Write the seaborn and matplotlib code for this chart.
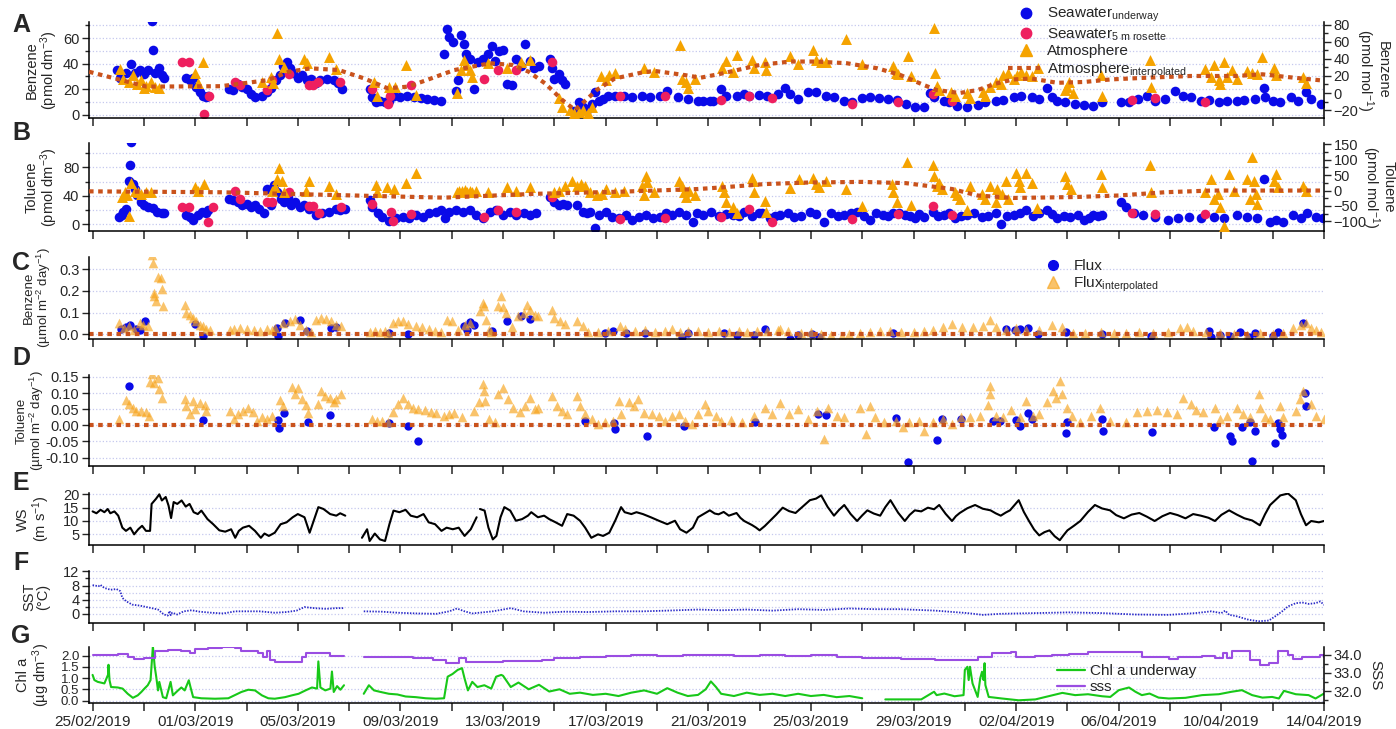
#!/usr/bin/env python3
import matplotlib
matplotlib.use("Agg")
import matplotlib.pyplot as plt
import matplotlib.ticker as mticker
import matplotlib.dates as mdates
from matplotlib.lines import Line2D
import seaborn as sns
import pandas as pd
import numpy as np

nan = np.nan
START = pd.Timestamp("2019-02-25")

# ===================== DATA (day since 25/02/2019, value) =====================

benz_underway = [
    (0.96, 35), (1.08, 29), (1.3, 33), (1.48, 40), (1.65, 33), (1.83, 35), (2.0, 32), (2.17, 35), (2.31, 73), (2.37, 51),
    (2.43, 33), (2.57, 37), (2.7, 31), (2.78, 29),
    (3.65, 29), (3.8, 27), (3.9, 29), (4.03, 22), (4.17, 18), (4.3, 15), (4.43, 14), (4.5, 15),
    (5.3, 20), (5.48, 19.5), (5.65, 24), (5.83, 21.5), (6.0, 20), (6.17, 16), (6.35, 14), (6.6, 15), (6.78, 18), (6.96, 21),
    (7.13, 27), (7.3, 31), (7.43, 38), (7.57, 41), (7.7, 37), (7.83, 33), (8.0, 29), (8.17, 31), (8.35, 27), (8.5, 28),
    (8.7, 25), (8.87, 27), (9.13, 28), (9.4, 27), (9.57, 25), (9.74, 20),
    (10.8, 20), (10.9, 14), (11.04, 10), (11.2, 11), (11.4, 10), (11.57, 11), (11.74, 15), (12.0, 14), (12.26, 15),
    (12.52, 14), (12.8, 13), (13.04, 12.5), (13.3, 11.7), (13.57, 11),
    (13.7, 47.5), (13.83, 67), (13.9, 60.5), (14.05, 56.6), (14.17, 19), (14.26, 27), (14.35, 62), (14.47, 55),
    (14.57, 47.5), (14.7, 43.6), (14.87, 20), (15.04, 41), (15.2, 43.6), (15.4, 47.5), (15.57, 54), (15.7, 42),
    (15.83, 50), (16.0, 51), (16.17, 24), (16.35, 23), (16.5, 43.6), (16.7, 38), (16.87, 55), (17.04, 42), (17.2, 37), (17.4, 38),
    (17.83, 43.6), (17.9, 37), (18.0, 28), (18.17, 32), (18.3, 27), (18.4, 24),
    (18.78, 3.4), (18.96, 10), (19.13, 6), (19.3, 4.7), (19.48, 8.6), (19.6, 17.7), (19.74, 11), (19.9, 12.5), (20.1, 15),
    (20.35, 15), (20.7, 15), (21.04, 14), (21.4, 15), (21.74, 14.3), (22.1, 15), (22.4, 19), (22.8, 14), (23.2, 12.5), (23.6, 11),
    (23.8, 11), (24.05, 11), (24.2, 11), (24.5, 20), (24.7, 15), (25.1, 15), (25.4, 16.4), (25.6, 15), (25.96, 15.6),
    (26.3, 15), (26.7, 16), (27.0, 21), (27.2, 16.4), (27.5, 12.5),
    (27.9, 17.7), (28.2, 17.7), (28.6, 15), (28.9, 14), (29.3, 11), (29.6, 10), (30.0, 13), (30.3, 14), (30.66, 13),
    (31.0, 12.5), (31.36, 11.7), (31.7, 8.6), (32.05, 6.5), (32.4, 6.5),
    (32.66, 17), (32.8, 14), (33.2, 11), (33.4, 10), (33.7, 7.3), (34.1, 6.5), (34.5, 8), (34.8, 10), (35.2, 11), (35.5, 11.7),
    (35.9, 14), (36.2, 15), (36.6, 14), (36.9, 12.5), (37.2, 21), (37.4, 14), (37.6, 11), (37.9, 10), (38.3, 8.6), (38.66, 8),
    (39.0, 7.3), (39.36, 10),
    (40.1, 10), (40.4, 10.4), (40.75, 12.5), (41.1, 15), (41.4, 11), (41.8, 12.5), (42.2, 19), (42.5, 15), (42.8, 14),
    (43.2, 11), (43.5, 11.7), (43.9, 10.4), (44.2, 11), (44.6, 11), (44.9, 11.7), (45.3, 12.5), (45.65, 21), (45.7, 14),
    (46.0, 11), (46.3, 10),
    (46.7, 14), (47.0, 11), (47.3, 17.7), (47.5, 12.5), (47.9, 8.6),
]

benz_rosette = [
    (3.48, 41.5), (3.74, 41), (4.35, 1), (4.52, 15), (5.57, 25.5), (5.74, 23), (6.78, 19.5), (7.0, 27.5), (7.65, 32),
    (8.43, 23.4), (8.6, 23.4), (8.8, 26), (9.65, 25.5), (10.9, 20), (11.5, 8.6), (11.6, 15), (12.43, 23.4), (15.27, 28),
    (15.8, 35), (16.5, 35), (17.9, 41), (20.57, 14.5), (22.3, 14.5), (24.5, 12), (25.57, 15), (26.5, 13), (29.6, 8.6),
    (31.4, 10), (32.75, 16), (33.5, 10.6), (40.5, 12), (41.4, 13), (43.36, 10.4),
]

benz_atmos = [
    (1.08, 28), (1.2, 17), (1.4, 13), (1.57, 21), (1.74, 11), (1.88, 15), (2.0, 5.5), (2.1, 8), (2.26, 13), (2.43, 7.5),
    (2.6, 5.5), (4.0, 24), (4.09, 11.4), (4.3, 37), (6.6, 13), (6.96, 19), (7.04, 11.4), (7.2, 71), (7.26, 39.6), (7.48, 31),
    (8.26, 39.6), (8.35, 35), (9.2, 42), (9.48, 28), (10.96, 13), (11.1, -4), (11.57, 7.5), (11.8, 6.7), (12.2, 33),
    (12.6, -2), (14.2, 0.4), (14.35, 27), (14.47, 39), (14.57, 33), (14.7, 27), (14.78, 19), (15.4, 35), (16.17, 29),
    (16.7, 37), (17.04, 39), (18.17, -6), (18.3, -16), (18.6, -20), (18.78, -23), (18.96, -22), (19.13, -20), (19.3, -23),
    (19.48, -16), (19.83, 20), (20.0, 15), (20.14, 21), (20.35, 24), (21.5, 29), (21.9, 25), (22.9, 56.5), (22.97, 17),
    (23.13, 13), (23.2, 5.5), (23.5, 16),
    (24.55, 29), (24.7, 38), (24.97, 25), (25.1, 44.7), (25.7, 39), (25.8, 29), (26.2, 37), (26.25, 27), (27.2, 43.5),
    (27.5, 34), (28.1, 50), (28.2, 39), (28.4, 37), (28.6, 37), (29.36, 64), (30.0, 34), (31.2, 32), (31.3, 23), (31.4, 22),
    (31.8, 43.5), (31.9, 20), (32.8, 77), (32.82, 23), (32.9, 8), (33.0, 3.5), (33.45, 1.6), (33.6, -4), (34.1, 0),
    (34.2, -5.5), (34.7, 1.6), (34.8, -4), (35.0, 7.5), (35.2, 13), (35.4, 11), (35.5, 21), (35.7, 24), (35.9, 17),
    (36.05, 21), (36.2, 25), (36.4, 21), (36.6, 20), (36.85, 29), (37.9, 3), (38.0, 7), (38.05, 13), (38.2, 0), (39.3, 21),
    (39.36, -4), (41.2, 39), (41.27, 7), (43.36, 28), (43.6, 19), (43.7, 33), (43.9, 15), (43.96, 11), (44.1, 36),
    (44.2, 19), (44.4, 27), (44.6, 16), (45.0, 26), (45.2, 23), (45.4, 22), (45.6, 42), (46.05, 29), (46.14, 21),
    (47.2, 19), (47.3, 12),
]

benz_atmos_interp = [
    (-0.14, 25), (2.1, 7.5), (5.0, 8), (6.8, 15), (7.65, 25), (8.5, 29), (9.6, 27), (10.6, 17), (11.5, 5.5), (12.3, 7.5),
    (13.0, 15), (14.1, 27), (15.5, 35), (16.35, 33), (17.0, 25), (17.65, 11), (18.3, -8), (18.8, -20), (19.1, -12),
    (19.65, 3.5), (20.35, 17), (21.4, 24), (21.9, 26), (23.1, 21), (23.7, 18), (24.55, 23), (26.0, 33), (27.2, 37),
    (28.2, 37), (29.4, 35), (30.6, 29), (31.5, 21), (32.4, 9.4), (32.9, 3.5), (33.8, 0), (34.5, 3.5), (35.2, 11), (35.9, 16),
    (36.6, 17), (37.6, 12), (38.66, 13), (39.7, 16), (41.1, 18), (42.8, 20), (44.6, 20), (45.6, 22), (46.5, 19), (48.0, 14.5),
]

tol_underway = [
    (1.04, 10.6), (1.13, 13), (1.2, 17.6), (1.3, 22), (1.4, 61.5), (1.44, 84), (1.5, 116), (1.57, 57), (1.65, 50),
    (1.74, 40.7), (1.88, 31.4), (2.0, 26.8), (2.17, 24.5), (2.35, 23), (2.52, 17.6), (2.7, 15), (2.8, 15),
    (3.65, 13), (3.8, 10.6), (3.9, 6), (4.09, 13), (4.26, 17.6), (4.43, 15), (4.5, 20),
    (5.3, 36), (5.48, 33.8), (5.65, 31.4), (5.83, 26.8), (6.0, 29), (6.17, 24.5), (6.35, 26.8), (6.5, 22), (6.7, 15),
    (6.78, 50), (6.96, 26.8), (7.08, 54.6), (7.2, 45), (7.35, 36), (7.48, 31.4), (7.6, 38), (7.74, 26.8), (7.9, 31.4),
    (8.1, 24.5), (8.26, 26.8), (8.43, 22), (8.7, 13), (8.96, 15), (9.2, 17.6), (9.48, 22), (9.65, 20), (9.83, 22),
    (10.8, 33.8), (10.9, 24.5), (11.13, 15), (11.3, 10.6), (11.57, 4.6), (11.83, 8.3), (12.1, 10.6), (12.35, 8.3),
    (12.6, 13), (12.87, 10.6), (13.13, 15), (13.4, 17.6), (13.57, 20), (13.74, 8.3), (13.9, 17.6), (14.17, 20),
    (14.43, 17.6), (14.7, 20), (14.96, 13), (15.2, 8.3), (15.48, 17.6), (15.74, 20), (16.0, 13), (16.26, 17.6),
    (16.5, 13), (16.8, 15), (17.04, 13), (17.3, 15),
    (17.83, 38), (18.0, 31.4), (18.17, 26.8), (18.35, 29), (18.5, 26.8), (18.9, 26.8), (19.1, 17.6), (19.26, 15),
    (19.4, 17.6), (19.6, -5.5), (19.74, 13), (20.0, 17.6), (20.26, 10.6), (20.5, 8.3), (20.8, 13), (21.04, 6),
    (21.3, 10.6), (21.57, 13), (21.83, 8.3), (22.1, 10.6), (22.35, 15), (22.6, 13), (22.87, 17.6), (23.13, 13),
    (23.4, 2.8), (23.57, 15),
    (23.8, 13), (24.1, 17), (24.4, 12), (24.7, 14), (24.97, 13), (25.2, 11), (25.4, 17.6), (25.7, 12), (25.96, 15),
    (26.1, 16), (26.4, 8.3), (26.6, 11), (26.8, 13), (27.1, 15), (27.35, 10.6), (27.6, 12), (27.96, 17.6), (28.2, 14),
    (28.5, 2.8), (28.8, 15), (29.05, 11), (29.3, 13), (29.55, 15), (29.8, 17.6), (30.05, 12), (30.3, 6), (30.55, 16),
    (30.8, 13), (31.0, 11), (31.2, 15), (31.45, 16), (31.65, 13), (31.85, 11), (32.05, 8.3), (32.2, 14), (32.4, 10.6),
    (32.75, 17.6), (32.95, 12), (33.2, 13), (33.4, 15), (33.6, 8.3), (33.85, 11), (34.1, 13), (34.35, 15), (34.65, 10.6),
    (34.9, 12), (35.2, 15), (35.4, 0), (35.65, 11), (35.9, 13), (36.15, 16), (36.4, 20), (36.65, 12), (36.9, 15),
    (37.2, 20), (37.4, 14), (37.6, 8.3), (37.85, 12), (38.1, 10.6), (38.4, 13), (38.66, 6), (38.85, 9), (39.0, 13),
    (39.2, 11), (39.36, 13),
    (40.1, 31.4), (40.3, 24.5), (40.6, 15), (40.95, 13), (41.4, 10.6), (41.9, 6), (42.3, 8.3), (42.75, 10.6), (43.2, 8.3),
    (43.7, 10.6), (44.1, 8.3), (44.6, 13), (45.0, 10.6), (45.4, 8.3), (45.65, 64), (45.9, 3.7), (46.14, 6), (46.4, 2.8),
    (46.8, 13), (47.1, 8.3), (47.35, 15), (47.7, 10.6), (47.97, 8.3),
]

tol_rosette = [
    (3.48, 23.6), (3.74, 23.6), (4.5, 3.7), (4.7, 23.6), (5.57, 46.7), (5.74, 36), (6.78, 31.4), (7.0, 31.4), (7.65, 46),
    (8.43, 26), (8.6, 25), (8.83, 15), (9.7, 23.6), (10.9, 28), (11.65, 17.6), (11.7, 4.6), (12.43, 14.3), (15.27, 10.6),
    (15.8, 20), (16.5, 17.6), (17.9, 38), (20.57, 7.4), (22.3, 8.3), (24.5, 10.6), (25.57, 22), (26.5, 3.7), (29.6, 7.4),
    (31.4, 13.9), (32.75, 26), (33.5, 13), (40.5, 16), (41.4, 13.9), (43.36, 13.9),
]

tol_atmos = [
    (1.13, -21), (1.25, -5), (1.36, -16), (1.43, -81), (1.5, 26), (1.65, 0), (1.77, -5.5), (1.9, -10.7), (2.09, -5.5),
    (2.26, -3.4), (4.0, 10), (4.09, 0), (4.35, 21), (7.0, 0), (7.1, 10), (7.2, 38.6), (7.26, 73), (7.4, 31), (7.48, -5.5),
    (8.3, 0), (8.43, 31), (9.2, 15.6), (9.5, -10.7), (11.04, 17.6), (11.1, -3.4), (11.48, 10), (11.74, 5), (12.2, 26),
    (12.6, 55.5), (14.2, -5), (14.3, 0), (14.4, -3), (14.5, 2), (14.6, -6), (14.7, 0), (14.8, -4), (14.96, -2),
    (15.4, -5.5), (16.17, 10), (16.5, 0), (17.04, 10), (18.0, -3.4), (18.17, -3), (18.4, 15.6), (18.7, 31), (18.87, 15.6),
    (19.04, 21), (19.2, 15.6), (19.4, -5.5), (19.65, -16), (19.87, -10.7), (20.0, 5), (20.35, -3.4), (20.7, 0),
    (21.4, 15.6), (21.5, -16), (21.57, 47), (21.6, 28), (21.9, -5.5), (22.87, 31), (22.97, 15.6), (23.04, -5.5),
    (23.13, -21), (23.26, 0), (23.5, -16),
    (24.55, 15.6), (24.6, -5.5), (24.7, -37), (24.97, -53), (25.1, -74), (25.7, 42), (25.75, 31), (25.8, -3.4),
    (26.2, -35), (26.25, -68), (27.2, 7), (27.55, 36.6), (28.1, 42), (28.2, 21), (28.3, 10), (28.6, 31), (29.36, 5),
    (30.0, -50), (31.15, 21), (31.2, -5.5), (31.36, -37), (31.75, 91), (31.9, -47), (32.75, 84), (32.8, 47), (32.9, 15.6),
    (33.0, 26), (33.1, 5), (33.6, -5.5), (33.7, -16), (33.8, -26), (34.1, -63), (34.2, 15.6), (34.65, -10.7), (34.8, -26),
    (35.0, 15.6), (35.2, -37), (35.25, 5), (35.45, -10.7), (35.6, 31), (35.7, -26), (36.0, 57.6), (36.1, 31), (36.15, 10),
    (36.4, 57.6), (36.6, 26), (36.8, -58), (37.9, 47), (38.0, 21), (38.14, 5), (39.3, 52), (39.35, 10), (41.2, 84),
    (41.27, -3.4), (43.36, -5.5), (43.6, 36.6), (43.7, -26), (43.85, -10.7), (43.96, -53), (44.1, -116), (44.3, 52),
    (44.5, 0), (45.0, 36.6), (45.1, -26), (45.2, 110), (45.27, 31), (45.35, -10.7), (45.4, -45), (46.05, 31), (46.14, 52),
    (46.2, 10), (47.2, 15.6), (47.3, 0),
]

tol_atmos_interp = [
    (-0.14, -2.6), (5.0, -5.5), (10.2, -16), (13.7, -23), (17.2, -10.7), (20.7, -3.4), (23.6, 5), (24.5, 10), (26.2, 21),
    (27.9, 26), (30.0, 28), (31.7, 24), (33.5, 5), (34.5, -16), (35.9, -24), (38.3, -21), (40.0, -16), (41.8, -5.5),
    (43.6, 0), (48.0, 0),
]

benz_flux = [
    (1.1, .023), (1.3, .033), (1.47, .044), (1.7, .023), (1.86, .02), (2.06, .062), (3.98, .048), (4.3, -.008),
    (7.17, .031), (7.24, -.006), (7.5, .051), (8.08, .067), (8.34, .017), (9.28, .031), (9.48, .033), (11.56, .008),
    (12.3, 0), (14.47, .036), (14.6, .02), (14.73, .056), (14.86, .044), (15.57, .017), (16.17, .059), (16.7, .086),
    (17.04, .07), (19.98, .005), (20.3, .017), (20.8, .008), (21.54, .005), (22.97, -.014), (23.2, .008), (24.6, .008),
    (25.1, -.003), (25.8, -.003), (26.2, .023), (27.2, -.023), (27.5, -.003), (28.06, .002), (28.3, -.014),
    (29.36, -.047), (31.2, .005), (31.8, -.039), (32.86, -.045), (35.6, .026), (35.95, .02), (36.14, .023),
    (36.47, .028), (36.86, .002), (37.96, .012), (39.33, .002), (41.25, -.008), (43.5, .016), (43.6, -.014),
    (43.95, -.003), (44.34, -.008), (44.73, .012), (45.06, -.014), (45.3, .008), (46.0, -.008), (46.2, .012), (47.2, .051),
]

benz_flux_interp = [
    (1.04, .054), (1.24, .028), (1.43, .039), (1.63, .02), (1.83, .054), (1.96, .044), (2.15, .036), (2.3, .365),
    (2.36, .328), (2.38, .176), (2.41, .19), (2.48, .152), (2.54, .266), (2.65, .261), (2.7, .21), (2.74, .129),
    (3.6, .137), (3.66, .10), (3.78, .09), (3.91, .075), (4.04, .059), (4.17, .044), (4.3, .036), (4.43, .023), (4.56, .02),
    (5.35, .02), (5.5, .023), (5.76, .028), (6.02, .026), (6.28, .02), (6.54, .017), (6.8, .023), (7.0, .02), (7.1, .028),
    (7.43, .054), (7.7, .059), (7.9, .07), (8.1, .044), (8.3, .02), (8.5, .012), (8.7, .064), (8.9, .075), (9.1, .07),
    (9.3, .059), (9.5, .044), (9.7, .036),
    (10.8, .012), (11.0, .015), (11.2, .012), (11.4, .014), (11.5, .008), (11.7, .051), (11.9, .059), (12.1, .059),
    (12.3, .048), (12.6, .039), (12.85, .033), (13.1, .023), (13.36, .017), (13.6, .012), (13.8, .067), (14.0, .059),
    (14.25, .02), (14.5, .044), (14.7, .051), (15.1, .106), (15.2, .145), (15.25, .129), (15.35, .067), (15.45, .02),
    (15.54, .012), (15.8, .129), (15.93, .176), (16.0, .126), (16.13, .098), (16.33, .033), (16.6, .082), (16.8, .098),
    (16.95, .137), (17.04, .114), (17.24, .09), (17.37, .086), (17.9, .11), (18.0, .075), (18.2, .059), (18.4, .048),
    (18.9, .059), (19.1, .036), (19.3, .012),
    (19.7, .011), (20.1, .014), (20.56, .039), (20.75, .023), (21.15, .017), (21.54, .02), (21.93, .012), (22.3, .016),
    (22.6, .023), (22.9, .012), (23.2, .017), (23.6, .014), (24.0, .012), (24.4, .014), (24.8, .012), (25.2, .016),
    (25.5, .012), (25.9, .017), (26.3, .014), (26.7, .02), (26.8, .026), (27.1, .014), (27.6, .005), (28.0, .011),
    (28.4, .002), (28.8, -.003), (29.2, -.008), (29.5, .002), (29.9, .005), (30.3, .011), (30.7, .016), (31.1, .017),
    (31.5, .012), (32.0, .012), (32.4, .014), (32.75, .02), (33.15, .033), (33.5, .048), (33.9, .033), (34.3, .033),
    (34.7, .036), (35.0, .067), (35.2, .033), (35.6, .02), (36.0, .028), (36.4, .02), (36.9, .02), (37.4, .044),
    (37.8, .033), (38.2, .008), (38.7, .008), (39.3, .012), (39.8, .005), (40.3, .005), (40.8, .012), (41.35, .008),
    (41.9, .012), (42.4, .028), (42.65, .033), (42.9, .017), (43.4, .012), (43.95, .008), (44.5, .002), (45.0, -.003),
    (45.5, .005), (46.0, .002), (46.4, .008), (46.8, .028), (47.1, .044), (47.3, .054), (47.5, .028), (47.7, .02), (47.9, .012),
]

tol_flux = [
    (1.43, .121), (4.3, .016), (7.24, .016), (7.27, -.008), (7.47, .038), (8.4, .01), (9.25, .032), (11.54, .006),
    (12.3, -.001), (12.7, -.047), (19.2, .012), (20.34, .006), (20.37, -.012), (21.6, -.032), (23.04, -.001),
    (25.84, .009), (28.26, .035), (28.6, .032), (31.3, .022), (31.8, -.115), (32.9, -.044), (33.1, .02), (33.86, .02),
    (35.1, .012), (35.36, .012), (36.0, .017), (36.14, -.003), (36.47, .037), (36.6, .02), (37.94, -.025), (38.0, .009),
    (39.33, .02), (39.4, -.018), (41.28, -.021), (43.7, -.006), (44.34, -.032), (44.4, -.049), (44.8, -.006),
    (45.1, .009), (45.2, -.109), (45.3, -.016), (46.08, -.055), (46.2, .006), (46.3, -.011), (46.36, -.03),
    (47.27, .099), (47.3, .061),
]

tol_flux_interp = [
    (1.04, .02), (1.3, .078), (1.43, .066), (1.56, .055), (1.7, .045), (1.9, .043), (2.1, .04), (2.2, .03), (2.25, .134),
    (2.3, .16), (2.4, .132), (2.54, .148), (2.6, .112), (2.7, .086),
    (3.6, .081), (3.65, .06), (3.8, .035), (3.9, .076), (3.98, .05), (4.17, .068), (4.37, .064), (4.43, .045),
    (5.35, .045), (5.5, .02), (5.67, .035), (5.87, .045), (6.06, .055), (6.26, .04), (6.4, .014), (6.6, .025), (6.8, .02),
    (7.0, .03), (7.3, .078), (7.43, .06), (7.76, .119), (7.9, .097), (8.0, .117), (8.15, .081), (8.3, .064), (8.4, .037),
    (8.8, .066), (8.9, .107), (9.06, .091), (9.25, .086), (9.4, .071), (9.5, .081), (9.7, .097),
    (10.9, .02), (11.1, .014), (11.3, .012), (11.5, .009), (11.7, .04), (11.9, .066), (12.1, .086), (12.3, .066),
    (12.5, .055), (12.7, .05), (12.97, .047), (13.2, .04), (13.4, .037), (13.7, .03), (13.9, .035), (14.1, .037),
    (14.4, .025), (14.86, .045), (15.05, .071), (15.2, .127), (15.25, .107), (15.3, .076), (15.45, .02), (15.7, .009),
    (15.8, .097), (16.0, .117), (16.2, .081), (16.4, .055), (16.65, .04), (16.85, .06), (17.04, .086), (17.24, .05),
    (17.37, .055), (17.9, .091), (18.1, .06), (18.3, .045), (18.5, .035), (18.9, .091), (19.0, .06), (19.2, .035),
    (19.45, .02), (19.7, .004), (19.98, .009), (20.3, .014), (20.5, .076), (20.6, .035), (20.9, .071), (21.1, .06),
    (21.25, .081), (21.5, .037), (21.8, .035), (22.06, .03), (22.3, .014), (22.6, .03), (22.85, .035), (23.1, .014),
    (23.37, .004), (23.6, .035), (23.86, .066), (24.0, .045), (24.3, .03), (24.5, .014), (24.9, .016), (25.3, .009),
    (25.8, .03), (26.2, .055), (26.5, .035), (26.8, .068), (27.15, .035), (27.5, .05), (27.9, .02), (28.25, .045),
    (28.5, -.042), (28.65, .055), (29.0, .03), (29.3, .025), (29.9, .055), (30.15, -.027), (30.3, .06), (30.5, .025),
    (30.86, .009), (31.3, .014), (31.6, -.006),
    (31.84, .009), (32.2, .012), (32.4, -.016), (32.75, .009), (33.15, .02), (33.5, .004), (33.86, .025), (34.2, .027),
    (34.6, .03), (34.9, .064), (34.97, .122), (35.0, .097), (35.2, .03), (35.5, .025), (35.8, .047), (36.14, .025),
    (36.4, .076), (36.66, .03), (36.9, .035), (37.2, .071), (37.44, .107), (37.57, .086), (37.7, .138), (37.8, .097),
    (38.0, .055), (38.16, .03), (38.5, .009), (38.9, .03), (39.26, .055), (39.66, .014), (40.3, .009), (40.7, .04),
    (41.1, .045), (41.5, .047), (41.87, .04), (42.26, .035), (42.5, .086), (42.8, .066), (43.0, .047), (43.3, .04),
    (43.76, .055), (43.95, .02), (44.2, .03), (44.6, .055), (44.86, .035), (45.1, .027), (45.45, .097), (45.5, .055),
    (45.7, .025), (45.9, .02), (46.3, .06), (46.4, .025), (46.9, .045), (47.08, .081), (47.2, .107), (47.5, .066),
    (47.7, .03), (48.0, .02),
]

wind_speed = [
    (0, 13.6), (0.15, 12.9), (0.31, 14.2), (0.46, 13.3), (0.59, 14.5), (0.69, 12.9), (0.85, 13.6), (1.0, 12), (1.16, 7.5),
    (1.3, 6.3), (1.47, 7.5), (1.62, 5), (1.78, 6.9), (1.93, 8.2), (2.08, 6.3), (2.24, 6.3), (2.3, 16.4), (2.47, 18.3),
    (2.6, 20), (2.7, 17.7), (2.85, 19), (2.96, 15.8), (3.06, 11.1), (3.16, 17.1), (3.3, 16.4), (3.47, 17.7), (3.63, 15.4),
    (3.78, 16.4), (3.94, 13.3), (4.1, 12.6), (4.24, 13.9), (4.48, 10.7), (4.7, 8.8), (4.94, 6.5), (5.17, 6), (5.4, 6.9),
    (5.56, 3.7), (5.7, 6.3), (5.86, 7.5), (6.1, 8.2), (6.33, 6.3), (6.56, 3.7), (6.7, 5.3), (6.87, 4.4), (7.1, 5.6),
    (7.33, 8.8), (7.56, 9.5), (7.8, 11.4), (8.0, 12.6), (8.26, 11.4), (8.46, 5.6), (8.64, 10.7), (8.8, 15.2), (9.0, 14.5),
    (9.26, 12.6), (9.5, 12), (9.65, 12.9), (9.85, 12), (10.2, nan),
    (10.5, 3.7), (10.7, 6.9), (10.8, 2.5), (11.0, 5.3), (11.2, 3.1), (11.4, 2.5), (11.57, 8.8), (11.73, 13.9),
    (11.96, 13.3), (12.2, 14.2), (12.4, 12), (12.65, 11.4), (12.9, 12.6), (13.1, 9.5), (13.35, 8.8), (13.6, 6.3),
    (13.8, 7.5), (14.04, 6.9), (14.27, 7.5), (14.5, 4.4), (14.74, 6.9), (14.97, 11.4), (15.03, nan),
    (15.1, 14.5), (15.28, 13.9), (15.43, 7.5), (15.6, 3.1), (15.74, 4.4), (15.9, 11.4), (16.05, 15.2), (16.28, 13.9),
    (16.5, 10.1), (16.74, 10.7), (16.97, 12), (17.1, 13.3), (17.36, 11.4), (17.6, 12), (17.8, 10.7), (18.05, 9.5),
    (18.3, 8.2), (18.5, 12.6), (18.75, 12), (19.0, 10.1), (19.2, 7.5), (19.44, 3.7), (19.7, 5), (19.9, 4.4), (20.14, 5.6),
    (20.37, 10.1), (20.6, 15.2), (20.74, 13.3), (21.0, 12.6), (21.2, 13.3), (21.45, 12.6), (21.76, 11.4), (22.07, 10.1),
    (22.4, 8.8), (22.7, 10.1), (22.9, 6.9), (23.15, 5.6), (23.4, 7.5), (23.6, 11.4),
    (24.06, 14), (24.25, 12.8), (24.4, 12.5), (24.6, 13.4), (24.8, 12), (25.1, 13), (25.25, 11.2), (25.4, 10),
    (25.7, 8.5), (25.85, 7.6), (26.0, 6.5), (26.2, 8.1), (26.4, 10), (26.65, 12.4), (26.9, 15), (27.15, 13.7), (27.4, 13),
    (27.7, 15.6), (27.96, 17.8), (28.2, 18.4), (28.4, 19.6), (28.65, 15.3), (28.9, 12), (29.1, 14.2), (29.3, 16),
    (29.55, 12.6), (29.8, 10), (30.0, 12.1), (30.2, 14), (30.45, 12.8), (30.7, 12), (30.9, 15.2), (31.1, 17.8),
    (31.4, 13.1), (31.66, 10), (31.85, 12.3), (32.05, 14), (32.3, 13.6), (32.56, 15), (32.8, 14.4), (33.0, 16),
    (33.25, 12.7), (33.5, 10), (33.65, 11.8), (33.8, 13), (34.1, 14.8), (34.4, 16), (34.7, 14.6), (35.0, 14),
    (35.2, 12.9), (35.4, 12), (35.6, 13.2), (35.76, 14), (35.95, 16.1), (36.1, 17.8), (36.3, 13.4), (36.5, 10),
    (36.7, 6.8), (36.9, 4.6), (37.1, 5.8), (37.3, 6.5), (37.5, 4.3), (37.7, 2.8), (37.85, 4.7), (38.0, 6.5), (38.25, 8.2),
    (38.5, 10), (38.8, 13.4), (39.07, 16), (39.35, 14.7), (39.66, 14), (39.9, 12.2), (40.2, 11), (40.5, 12.4),
    (40.8, 13), (41.1, 11.6), (41.4, 10), (41.7, 11.8), (42.0, 13), (42.3, 12.2), (42.6, 11), (42.9, 12.6), (43.2, 12),
    (43.5, 11.2), (43.75, 10), (44.0, 12.3), (44.3, 14), (44.6, 12.4), (44.9, 11), (45.2, 10.2), (45.5, 8.4),
    (45.7, 12.5), (45.9, 16), (46.1, 17.8), (46.3, 19.6), (46.6, 20.3), (46.9, 17.8), (47.1, 12.6), (47.3, 8.4),
    (47.5, 10), (47.8, 9.5), (48.0, 10),
]

sst = [
    (0, 8.1), (0.23, 7.8), (0.3, 8.2), (0.46, 7.3), (0.7, 6.8), (0.93, 7.0), (1.08, 6.4), (1.16, 4.5), (1.3, 3.6),
    (1.54, 2.6), (1.85, 2.3), (2.24, 1.7), (2.55, 1.2), (2.78, -0.2), (2.93, -0.5), (3.0, 0.8), (3.05, -0.4), (3.1, 0.3),
    (3.3, -0.2), (3.55, 0.7), (3.86, 1.0), (4.17, 0.6), (4.63, 0.3), (5.1, 0.1), (5.56, 0.7), (6.0, 0.7), (6.5, 0.7),
    (7.1, 0.3), (7.56, 0.5), (7.95, 0.9), (8.26, 1.9), (8.64, 1.6), (9.1, 1.4), (9.5, 1.6), (9.8, 1.6), (10.2, nan),
    (10.57, 0.7), (11.27, 0.6), (11.9, 0.3), (12.65, 0.1), (13.4, 0.0), (13.9, 0.7), (14.2, 1.5), (14.5, 0.7), (14.8, 0.1),
    (15.6, 0.7), (16.3, 1.6), (16.8, 0.7), (17.6, 0.3), (18.4, 0.6), (19.3, 0.5), (20.4, 0.7), (21.45, 0.7), (22.4, 0.9),
    (23.6, 1.2), (24.5, 1.0), (25.5, 1.2), (26.5, 0.9), (27.5, 1.3), (28.5, 1.1), (29.5, 1.5), (30.5, 1.3), (31.5, 1.3),
    (32.85, 0.9), (34.1, 0.2), (34.7, -0.3), (35.4, 0.0), (36.75, 0.2), (38.05, 0.4), (39.35, 0.2), (40.65, -0.2),
    (41.95, -0.3), (43.0, 0.2), (43.6, 0.7), (44.0, 0.2), (44.15, 0.9), (44.3, -0.3), (44.55, -0.6), (45.07, -1.7),
    (45.46, -2.1), (45.85, -1.9), (46.1, -0.7), (46.37, 0.7), (46.6, 2.1), (46.9, 3.0), (47.15, 3.2), (47.4, 2.8),
    (47.67, 3.0), (47.86, 3.5), (48.0, 2.5),
]

chl_a = [
    (0, 1.14), (0.07, 0.91), (0.2, 0.83), (0.46, 0.76), (0.6, 1.14), (0.62, 1.59), (0.66, 0.9), (0.72, 0.6), (0.98, 0.58),
    (1.17, 0.53), (1.37, 0.3), (1.57, 0.12), (1.76, 0.23), (1.9, 0.38), (2.02, 0.53), (2.15, 0.68), (2.26, 0.91),
    (2.35, 2.42), (2.42, 1.52), (2.48, 1.06), (2.55, 0.45), (2.6, 0.83), (2.74, 0.15), (2.87, 0.1), (3.04, 0.83),
    (3.13, 0.23), (3.33, 0.45), (3.46, 0.58), (3.59, 0.45), (3.75, 0.9), (3.82, 0.58), (3.92, 0.15), (4.24, 0.1),
    (4.77, 0.08), (5.29, 0.1), (5.8, 0.38), (6.07, 0.48), (6.33, 0.45), (6.6, 0.23), (6.85, 0.1), (7.1, 0.08), (7.5, 0.15),
    (7.77, 0.23), (8.03, 0.3), (8.3, 0.45), (8.55, 0.58), (8.75, 0.53), (8.8, 1.74), (8.88, 0.58), (9.07, 0.45),
    (9.27, 0.53), (9.33, 1.29), (9.4, 0.38), (9.53, 0.64), (9.66, 0.48), (9.8, 0.68), (10.2, nan),
    (10.57, 0.3), (10.77, 0.68), (10.97, 0.45), (11.23, 0.38), (11.55, 0.3), (11.88, 0.27), (12.2, 0.18), (12.6, 0.15),
    (12.99, 0.1), (13.38, 0.08), (13.7, 0.1), (13.84, 1.06), (14.03, 1.18), (14.23, 1.36), (14.4, 1.44), (14.5, 0.98),
    (14.63, 0.45), (14.8, 0.83), (15.0, 0.6), (15.27, 0.68), (15.54, 0.53), (15.73, 1.06), (15.93, 1.14), (16.0, 1.1),
    (16.3, 0.6), (16.6, 0.8), (17.0, 0.5), (17.4, 0.7), (17.8, 0.4), (18.2, 0.5), (18.6, 0.3), (19.0, 0.35), (19.5, 0.25),
    (20.0, 0.3), (20.5, 0.2), (21.0, 0.35), (21.5, 0.45), (22.0, 0.3), (22.4, 0.55), (22.8, 0.35), (23.2, 0.2),
    (23.6, 0.25), (23.9, 0.5), (24.1, 0.85), (24.3, 0.6), (24.5, 0.3), (25.0, 0.2), (25.5, 0.35), (26.0, 0.25),
    (26.5, 0.3), (27.0, 0.2), (27.5, 0.3), (28.0, 0.2), (28.5, 0.25), (29.0, 0.15), (29.5, 0.2), (30.0, 0.1), (30.45, nan),
    (30.9, 0.05), (31.5, 0.05), (32.3, 0.05), (32.8, 0.39), (32.9, 0.24), (33.2, 0.31), (33.6, 0.19), (33.95, 0.24),
    (34.0, 1.36), (34.1, 1.5), (34.15, 0.91), (34.2, 1.5), (34.3, 0.76), (34.4, 0.46), (34.5, 0.16), (34.6, 0.99),
    (34.67, 1.28), (34.73, 0.91), (34.77, 1.66), (34.8, 0.69), (34.93, 0.16), (35.45, 0.09), (36.1, 0.01), (36.75, 0.05),
    (37.8, 0.34), (38.3, 0.24), (38.8, 0.28), (39.35, 0.19), (39.67, 0.16), (40.0, 0.46), (40.4, 0.58), (40.65, 0.39),
    (40.9, 0.24), (41.2, 0.31), (41.55, 0.13), (41.95, 0.09), (42.6, 0.12), (43.25, 0.24), (43.9, 0.28), (44.4, 0.39),
    (44.8, 0.46), (45.2, 0.24), (45.6, 0.13), (45.98, 0.16), (46.24, 0.09), (46.44, 0.43), (46.9, 0.28), (47.4, 0.24),
    (47.67, 0.09), (48.0, 0.31),
]

sss = [
    (0, 34.0), (0.98, 34.05), (1.37, 33.9), (1.63, 33.76), (2.02, 33.8), (2.28, 33.8), (2.42, 34.2), (2.94, 34.24),
    (3.46, 34.2), (3.8, 34.1), (3.98, 34.3), (4.5, 34.4), (5.03, 34.42), (5.55, 34.37), (5.8, 34.2), (6.46, 34.1),
    (6.66, 33.9), (6.8, 34.2), (6.92, 33.7), (7.1, 33.63), (7.9, 33.63), (8.16, 33.9), (8.3, 34.1), (8.94, 34.1),
    (9.27, 33.95), (9.8, 33.95), (10.2, nan), (10.57, 33.9), (11.55, 33.9), (12.47, 33.8), (13.25, 33.72), (13.77, 33.57),
    (14.3, 33.8), (14.56, 33.63), (15.2, 33.6), (16.0, 33.67), (17.0, 33.65), (17.5, 33.7), (18.0, 33.85), (19.0, 33.9),
    (20.0, 33.95), (21.0, 34.0), (22.0, 33.95), (23.0, 34.0), (24.0, 34.0), (25.0, 33.95), (26.0, 34.0), (27.0, 33.95),
    (28.0, 34.0), (29.0, 33.9), (30.0, 33.85), (31.0, 33.8), (31.5, 33.76), (32.85, 33.72), (33.5, 33.72), (34.5, 33.87),
    (35.05, 34.09), (35.8, 34.13), (36.0, 33.9), (36.75, 33.94), (37.4, 34.0), (38.05, 34.05), (38.8, 34.13),
    (40.65, 34.13), (40.9, 33.9), (41.7, 33.87), (41.95, 33.76), (42.3, 33.9), (43.25, 33.94), (43.77, 33.81),
    (44.05, 34.09), (44.2, 33.81), (44.4, 34.19), (44.95, 34.19), (45.1, 33.72), (45.5, 33.44), (45.85, 33.53),
    (46.05, 33.57), (46.2, 34.19), (46.4, 34.19), (46.6, 34.0), (46.8, 33.76), (47.15, 33.87), (47.67, 33.9),
    (47.86, 34.0), (48.0, 33.87),
]

zero_line = [(-0.14, 0.0), (48.0, 0.0)]

# ===================== STYLE =====================

BLUE = "#0A0AE8"
PINK = "#EE1F5F"
ORANGE = "#F5A300"
RUST = "#C9521C"
FLUX_ORANGE = "#F7A41C"
GREEN = "#18C818"
PURPLE = "#9A4DE2"
SST_BLUE = "#2A2AC8"
GRID = "#C5C8EE"
DOTS = (0, (1.1, 1.1))

W, H = 1396, 729
LEFT, RIGHT = 89, 1324
XMIN = START + pd.Timedelta(days=-0.14)
XMAX = START + pd.Timedelta(days=48.0)


def frame(pairs):
    df = pd.DataFrame(pairs, columns=["day", "value"])
    df["seg"] = df["value"].isna().cumsum()
    df = df.dropna().copy()
    df["time"] = START + pd.to_timedelta(df["day"], unit="D")
    return df


def add_panel(fig, top, bottom):
    return fig.add_axes([LEFT / W, 1 - bottom / H, (RIGHT - LEFT) / W, (bottom - top) / H])


def px_to_axes(x):
    return (x - LEFT) / (RIGHT - LEFT)


def style(ax, ylim, major, minor=None, fmt=None, grid_minor=False, right=False, labelsize=10.5):
    ax.set_xlim(XMIN, XMAX)
    ax.set_ylim(*ylim)
    ax.yaxis.set_major_locator(mticker.MultipleLocator(major))
    if minor is not None:
        ax.yaxis.set_minor_locator(mticker.FixedLocator(minor))
    if fmt:
        ax.yaxis.set_major_formatter(mticker.FormatStrFormatter(fmt))
    ax.tick_params(axis="y", which="major", length=5, width=1, labelsize=labelsize, pad=2)
    ax.tick_params(axis="y", which="minor", length=3, width=1)
    for side in ("top", "right", "left", "bottom"):
        ax.spines[side].set_linewidth(1.1)
    ax.spines["top"].set_visible(False)
    if right:
        ax.spines["left"].set_visible(False)
        ax.spines["bottom"].set_visible(False)
        ax.tick_params(axis="x", which="both", bottom=False, labelbottom=False)
        return
    ax.spines["right"].set_visible(False)
    ax.yaxis.grid(True, which="both" if grid_minor else "major", color=GRID, linestyle=":", linewidth=0.9)
    ax.set_axisbelow(True)
    ax.set_xticks(pd.date_range("2019-02-25", "2019-04-14", freq="4D"))
    ax.set_xticks(pd.date_range("2019-02-27", "2019-04-12", freq="4D"), minor=True)
    ax.tick_params(axis="x", which="both", length=6, width=1.1, direction="out", labelbottom=False)
    ax.set_xlabel("")


def left_label(ax, text, right_edge_px, size=10.5):
    ax.set_ylabel(text, fontsize=size, linespacing=1.0)
    ax.yaxis.set_label_coords(px_to_axes(right_edge_px), 0.5)


def right_label(ax, text, left_edge_px):
    ax.set_ylabel(text, fontsize=10.5, linespacing=1.0, rotation=270, va="bottom")
    ax.yaxis.set_label_coords(px_to_axes(left_edge_px), 0.5)


def scatter(ax, pairs, color, marker="o", size=48, alpha=1.0):
    sns.scatterplot(data=frame(pairs), x="time", y="value", color=color, marker=marker, s=size,
                    linewidth=0, alpha=alpha, legend=False, ax=ax)


def line(ax, pairs, color, lw=1.5, **kw):
    sns.lineplot(data=frame(pairs), x="time", y="value", units="seg", estimator=None, color=color,
                 linewidth=lw, legend=False, ax=ax, **kw)


# ===================== FIGURE =====================

sns.set_theme(style="ticks")
plt.rcParams["font.family"] = ["Liberation Sans", "DejaVu Sans"]
plt.rcParams["mathtext.fontset"] = "custom"
plt.rcParams["mathtext.rm"] = "Liberation Sans"
plt.rcParams["mathtext.it"] = "Liberation Sans:italic"
plt.rcParams["mathtext.bf"] = "Liberation Sans:bold"
plt.rcParams["axes.edgecolor"] = "black"

fig = plt.figure(figsize=(13.96, 7.29), dpi=100)

# A - benzene
axA = add_panel(fig, 22, 118)
scatter(axA, benz_underway, BLUE)
scatter(axA, benz_rosette, PINK)
style(axA, (-2.4, 72.5), 20, minor=[10, 30, 50, 70], grid_minor=True)
left_label(axA, "Benzene\n(pmol dm$^{-3}$)", 60)
axA2 = axA.twinx()
scatter(axA2, benz_atmos, ORANGE, marker="^", size=62)
line(axA2, benz_atmos_interp, RUST, lw=3.0, linestyle=DOTS)
style(axA2, (-29.4, 83.5), 20, minor=[-10, 10, 30, 50, 70], right=True)
right_label(axA2, "Benzene\n(pmol mol$^{-1}$)", 1354)

# B - toluene
axB = add_panel(fig, 143, 231)
scatter(axB, tol_underway, BLUE)
scatter(axB, tol_rosette, PINK)
style(axB, (-9.7, 114.5), 40, minor=[20, 60, 100], grid_minor=True)
left_label(axB, "Toluene\n(pmol dm$^{-3}$)", 60)
axB2 = axB.twinx()
scatter(axB2, tol_atmos, ORANGE, marker="^", size=62)
line(axB2, tol_atmos_interp, RUST, lw=3.0, linestyle=DOTS)
style(axB2, (-131, 154), 50, minor=[-75, -25, 25, 75, 125], right=True)
right_label(axB2, "Toluene\n(pmol mol$^{-1}$)", 1360)

# C - benzene flux
axC = add_panel(fig, 257, 339)
line(axC, zero_line, RUST, lw=3.0, linestyle=DOTS)
scatter(axC, benz_flux, BLUE, size=36)
scatter(axC, benz_flux_interp, FLUX_ORANGE, marker="^", size=48, alpha=0.65)
style(axC, (-0.022, 0.357), 0.1, fmt="%.1f")
left_label(axC, "Benzene\n(µmol m$^{-2}$ day$^{-1}$)", 53, size=9.5)

# D - toluene flux
axD = add_panel(fig, 375, 466)
line(axD, zero_line, RUST, lw=3.0, linestyle=DOTS)
scatter(axD, tol_flux, BLUE, size=36)
scatter(axD, tol_flux_interp, FLUX_ORANGE, marker="^", size=48, alpha=0.65)
style(axD, (-0.126, 0.156), 0.05, fmt="%.2f")
left_label(axD, "Toluene\n(µmol m$^{-2}$ day$^{-1}$)", 46, size=9.5)

# E - wind speed
axE = add_panel(fig, 493, 545)
line(axE, wind_speed, "black", lw=1.5)
style(axE, (1.0, 20.5), 5)
left_label(axE, "WS\n(m s$^{-1}$)", 52)

# F - SST
axF = add_panel(fig, 571, 623)
line(axF, sst, SST_BLUE, lw=1.3, linestyle=(0, (0.8, 0.8)))
style(axF, (-2.6, 12.1), 4, minor=[2, 6, 10], grid_minor=True)
left_label(axF, "SST\n(°C)", 50)

# G - chl a and sss
axG = add_panel(fig, 647, 703)
line(axG, chl_a, GREEN, lw=1.5)
style(axG, (-0.11, 2.38), 0.5, fmt="%.1f", labelsize=9.5)
left_label(axG, "Chl a\n(µg dm$^{-3}$)", 52)
axG.xaxis.set_major_formatter(mdates.DateFormatter("%d/%m/%Y"))
axG.tick_params(axis="x", which="major", labelbottom=True, labelsize=11, pad=3)
axG2 = axG.twinx()
line(axG2, sss, PURPLE, lw=1.5, drawstyle="steps-post")
style(axG2, (31.35, 34.43), 1.0, minor=[31.5, 32.5, 33.5], fmt="%.1f", right=True)
axG2.set_ylabel("SSS", rotation=270, va="bottom", fontsize=11)
axG2.yaxis.set_label_coords(px_to_axes(1368), 0.5)

# ===================== LEGENDS =====================

handles_a = [
    Line2D([], [], marker="o", color=BLUE, ls="none", markersize=7.5),
    Line2D([], [], marker="o", color=PINK, ls="none", markersize=7.5),
    Line2D([], [], marker="^", color=ORANGE, ls="none", markersize=8.5),
    Line2D([], [], color=RUST, lw=3.0, ls=DOTS),
]
labels_a = ["Seawater$_{\\rm underway}$", "Seawater$_{\\rm 5\\ m\\ rosette}$", "Atmosphere",
            "Atmosphere$_{\\rm interpolated}$"]
fig.legend(handles_a, labels_a, loc="upper left", bbox_to_anchor=(1008 / W, 1 - 6 / H), frameon=False,
           fontsize=11, handlelength=2.3, handletextpad=0.25, labelspacing=0.12, borderpad=0, borderaxespad=0)

handles_c = [
    Line2D([], [], marker="o", color=BLUE, ls="none", markersize=7),
    Line2D([], [], marker="^", color=FLUX_ORANGE, alpha=0.65, ls="none", markersize=8),
]
fig.legend(handles_c, ["Flux", "Flux$_{\\rm interpolated}$"], loc="upper left",
           bbox_to_anchor=(1042 / W, 1 - 259 / H), frameon=False, fontsize=11, handlelength=1.5,
           handletextpad=0.55, labelspacing=0.1, borderpad=0, borderaxespad=0)

handles_g = [Line2D([], [], color=GREEN, lw=1.6), Line2D([], [], color=PURPLE, lw=1.6)]
fig.legend(handles_g, ["Chl a underway", "sss"], loc="upper left", bbox_to_anchor=(1057 / W, 1 - 664 / H),
           frameon=False, fontsize=11, handlelength=1.8, handletextpad=0.35, labelspacing=0.15,
           borderpad=0, borderaxespad=0)

# ===================== PANEL LETTERS =====================

for letter, y in zip("ABCDEFG", [25, 133, 263, 358, 483, 563, 636]):
    fig.text(21 / W, 1 - y / H, letter, fontsize=18, fontweight="bold", ha="center", va="center")

fig.savefig("out.png", dpi=100)
